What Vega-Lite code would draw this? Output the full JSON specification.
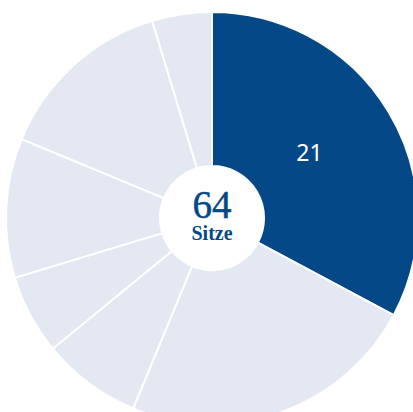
{
  "$schema": "https://vega.github.io/schema/vega-lite/v6.json",
  "width": 402,
  "height": 388,
  "padding": {"left": 11, "top": 24, "right": 0, "bottom": 0},
  "autosize": {"type": "none"},
  "background": "white",
  "view": {"stroke": null},
  "data": {
    "values": [
      {"gruppe": "A", "sitze": 21, "i": 1, "hl": "ja"},
      {"gruppe": "B", "sitze": 15, "i": 2, "hl": "nein"},
      {"gruppe": "C", "sitze": 5, "i": 3, "hl": "nein"},
      {"gruppe": "D", "sitze": 4, "i": 4, "hl": "nein"},
      {"gruppe": "E", "sitze": 7, "i": 5, "hl": "nein"},
      {"gruppe": "F", "sitze": 9, "i": 6, "hl": "nein"},
      {"gruppe": "G", "sitze": 3, "i": 7, "hl": "nein"}
    ]
  },
  "layer": [
    {
      "mark": {"type": "arc", "outerRadius": 206, "innerRadius": 52, "stroke": "white", "strokeWidth": 2},
      "encoding": {
        "theta": {"field": "sitze", "type": "quantitative", "stack": true},
        "order": {"field": "i", "type": "quantitative"},
        "color": {"field": "hl", "type": "nominal", "scale": {"domain": ["ja", "nein"], "range": ["#044887", "#e4e8f3"]}, "legend": null}
      }
    },
    {
      "mark": {"type": "text", "radius": 116, "fontSize": 23, "font": "Noto Sans", "color": "white", "baseline": "middle", "align": "center", "dx": -2, "dy": -4},
      "encoding": {
        "theta": {"field": "sitze", "type": "quantitative", "stack": true},
        "order": {"field": "i", "type": "quantitative"},
        "text": {"condition": {"test": "datum.i == 1", "field": "sitze", "type": "quantitative"}, "value": ""}
      }
    },
    {
      "transform": [{"aggregate": [{"op": "sum", "field": "sitze", "as": "total"}]}],
      "mark": {"type": "text", "font": "Liberation Serif", "fontSize": 39, "color": "#044887", "stroke": "#044887", "strokeWidth": 0.5, "align": "center", "baseline": "alphabetic", "dy": 0},
      "encoding": {"text": {"field": "total", "type": "quantitative"}}
    },
    {
      "transform": [{"aggregate": [{"op": "sum", "field": "sitze", "as": "total"}]}],
      "mark": {"type": "text", "font": "Liberation Serif", "fontSize": 20, "fontWeight": "bold", "color": "#044887", "align": "center", "baseline": "alphabetic", "dy": 22},
      "encoding": {"text": {"value": "Sitze"}}
    }
  ]
}
